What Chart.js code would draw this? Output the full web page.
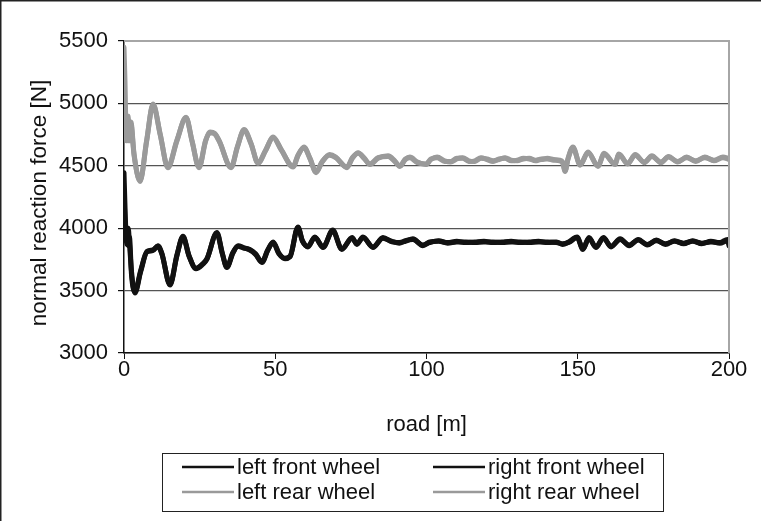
<!DOCTYPE html>
<html>
<head>
<meta charset="utf-8">
<script src="https://cdn.jsdelivr.net/npm/chart.js@4.4.1/dist/chart.umd.min.js"></script>
<style>
  html, body { margin: 0; padding: 0; background: #fff; }
  #wrap { width: 761px; height: 521px; position: relative; }
</style>
</head>
<body>
<div id="wrap"><canvas id="c" width="761" height="521"></canvas></div>
<script>
// ---- data ----
const roadFront = [0,0.3,0.6,1,1.4,1.8,2.5,3.6,5.5,7.6,9.5,11.2,12.5,15.2,17.5,19.5,21.5,23.8,26,27.4,30.7,32.5,34,36,37.7,39.5,41.6,43.5,45.6,47.5,49.3,51.2,53.2,54.9,57.5,59,60.8,63.1,65.8,69,72,75.4,77,79,82.3,85.6,88.6,91,93,95.5,98.8,101,104,107,110,113,116,119,122,125,128,131,134,137,140,143,145,147,149.8,151.7,153.7,156,158.5,161,164,167,170,173,176,179,182,185,188,191,194,197,199.5,200];
const leftFront = [4445,4200,3990,3870,4000,3880,3650,3480,3650,3810,3820,3860,3800,3545,3780,3935,3780,3675,3710,3750,3965,3800,3685,3800,3860,3845,3825,3790,3725,3820,3890,3800,3755,3770,4010,3900,3850,3930,3845,3985,3830,3925,3870,3930,3845,3925,3890,3885,3895,3915,3860,3890,3895,3885,3895,3885,3890,3895,3885,3890,3895,3885,3890,3895,3885,3890,3870,3890,3930,3830,3925,3845,3925,3850,3915,3860,3910,3865,3905,3870,3900,3875,3900,3875,3895,3880,3900,3860];
const rightFront = [4300,4050,3900,3990,3860,3930,3620,3490,3660,3815,3825,3855,3795,3550,3785,3930,3775,3680,3715,3755,3960,3795,3690,3805,3855,3840,3830,3795,3730,3825,3885,3795,3760,3775,4005,3895,3855,3925,3850,3980,3835,3920,3875,3925,3850,3920,3895,3880,3900,3910,3865,3885,3900,3880,3890,3890,3885,3890,3890,3885,3890,3890,3885,3890,3890,3885,3875,3885,3925,3835,3920,3850,3920,3855,3910,3865,3905,3870,3900,3875,3895,3880,3895,3880,3890,3885,3910,3900];

const roadRear = [0,0.3,0.8,1.3,1.8,2.3,3.3,5.3,7.5,9.6,12,14.5,17.5,20.5,22.5,24.8,27,28.5,30,31.5,35.4,37.5,39.7,42,44.3,46.8,49.3,52,55.9,57.5,59.5,61.5,63.5,65.5,68,70,73.7,75.5,77.4,79.5,81.3,84,87.3,89.5,91.2,93,94.5,97,99.8,101.5,103.5,106,108,110,112,114,116,118,120,122,124,126,128,130,132,134,136,138,140,142,144,145,145.8,146.8,148.4,150.8,153.4,156.7,158.7,162.3,163.6,166.5,169,172,174.5,177.5,180,183,186,189,192,195,198,200];
const leftRear = [5450,5200,4700,4900,4720,4850,4600,4375,4700,4995,4750,4485,4700,4890,4700,4485,4700,4770,4760,4700,4485,4650,4790,4680,4520,4620,4730,4630,4490,4580,4650,4560,4445,4530,4590,4570,4485,4560,4605,4560,4510,4560,4580,4540,4495,4550,4570,4530,4510,4550,4570,4540,4530,4555,4565,4540,4535,4560,4555,4540,4550,4565,4545,4540,4555,4560,4545,4550,4560,4550,4545,4530,4455,4560,4650,4505,4610,4495,4600,4510,4595,4515,4590,4525,4580,4525,4575,4530,4570,4535,4570,4540,4565,4550];
const rightRear = [4900,4850,4720,4880,4700,4830,4590,4380,4705,4990,4745,4490,4705,4885,4695,4490,4705,4765,4755,4695,4490,4655,4785,4675,4525,4625,4725,4625,4495,4585,4645,4555,4450,4535,4585,4565,4490,4565,4600,4555,4515,4565,4575,4535,4500,4555,4565,4525,4515,4555,4565,4535,4535,4560,4560,4535,4540,4565,4550,4535,4555,4560,4540,4545,4560,4555,4540,4555,4555,4545,4540,4525,4460,4555,4645,4510,4605,4500,4595,4515,4590,4520,4585,4530,4575,4530,4570,4535,4565,4540,4565,4545,4570,4560];

const xTicks = [0, 50, 100, 150, 200];
const yTicks = [3000, 3500, 4000, 4500, 5000, 5500];
const seriesNames = ['left front wheel', 'right front wheel', 'left rear wheel', 'right rear wheel'];
const xTitle = 'road [m]';
const yTitle = 'normal reaction force [N]';

const BLACK = '#111111';
const GRAY = '#9a9a9a';
const FONT = "'Liberation Sans', Arial, sans-serif";

function pts(xs, ys) { return xs.map((x, i) => ({ x: x, y: ys[i] })); }

const PLOT = { left: 124, right: 729, top: 41, bottom: 353 };

const framePlugin = {
  id: 'frame',
  afterDatasetsDraw(chart) {
    const ctx = chart.ctx;
    const a = chart.chartArea;
    ctx.save();
    ctx.strokeStyle = '#a6a6a6';
    ctx.lineWidth = 2;
    ctx.beginPath();
    ctx.moveTo(a.left, a.top);
    ctx.lineTo(a.right, a.top);
    ctx.lineTo(a.right, a.bottom);
    ctx.stroke();
    ctx.restore();
  },
  afterDraw(chart) {
    const ctx = chart.ctx;
    ctx.save();
    // outer figure border (top, left)
    ctx.strokeStyle = '#222';
    ctx.lineWidth = 1.5;
    ctx.beginPath();
    ctx.moveTo(0.75, 521);
    ctx.lineTo(0.75, 0.75);
    ctx.lineTo(761, 0.75);
    ctx.stroke();
    // y-axis title
    ctx.save();
    ctx.translate(40, 203);
    ctx.rotate(-Math.PI / 2);
    ctx.font = '22.5px ' + FONT;
    ctx.fillStyle = '#111';
    ctx.textAlign = 'center';
    ctx.textBaseline = 'middle';
    ctx.fillText(yTitle, 0, 0);
    ctx.restore();
    // legend
    const bx = 162.5, by = 453.5, bw = 501, bh = 58;
    ctx.strokeStyle = '#222';
    ctx.lineWidth = 1;
    ctx.strokeRect(bx, by, bw, bh);
    const items = [
      { x: 182, y: 467, color: BLACK, label: seriesNames[0] },
      { x: 433, y: 467, color: BLACK, label: seriesNames[1] },
      { x: 182, y: 492, color: GRAY, label: seriesNames[2] },
      { x: 433, y: 492, color: GRAY, label: seriesNames[3] }
    ];
    ctx.font = '22px ' + FONT;
    ctx.textBaseline = 'middle';
    ctx.textAlign = 'left';
    items.forEach(it => {
      ctx.strokeStyle = it.color;
      ctx.lineWidth = 2.5;
      ctx.beginPath();
      ctx.moveTo(it.x, it.y);
      ctx.lineTo(it.x + 52, it.y);
      ctx.stroke();
      ctx.fillStyle = '#111';
      ctx.fillText(it.label, it.x + 55, it.y + 1);
    });
    ctx.restore();
  }
};

const ds = (label, xs, ys, color) => ({
  label: label,
  data: pts(xs, ys),
  borderColor: color,
  backgroundColor: color,
  borderWidth: 5,
  pointRadius: 0,
  fill: false,
  cubicInterpolationMode: 'monotone',
  borderJoinStyle: 'round',
  borderCapStyle: 'round'
});

new Chart(document.getElementById('c'), {
  type: 'line',
  data: {
    datasets: [
      ds(seriesNames[2], roadRear, leftRear, GRAY),
      ds(seriesNames[3], roadRear, rightRear, GRAY),
      ds(seriesNames[0], roadFront, leftFront, BLACK),
      ds(seriesNames[1], roadFront, rightFront, BLACK)
    ]
  },
  options: {
    responsive: false,
    animation: false,
    devicePixelRatio: 1,
    layout: { padding: { left: 0, right: 761 - PLOT.right, top: PLOT.top, bottom: 78 } },
    plugins: { legend: { display: false }, tooltip: { enabled: false } },
    scales: {
      x: {
        type: 'linear',
        min: 0, max: 200,
        afterBuildTicks: s => { s.ticks = xTicks.map(v => ({ value: v })); },
        ticks: { color: '#111', font: { family: FONT, size: 22 }, padding: -2, maxRotation: 0, callback: v => String(v) },
        grid: { drawOnChartArea: false, drawTicks: true, tickLength: 6, color: '#111', tickColor: '#111' },
        border: { display: true, color: '#111', width: 1.5 },
        title: { display: true, text: xTitle, color: '#111', font: { family: FONT, size: 22 }, padding: { top: 0, bottom: 5 } },
        afterFit: s => { s.height = 90; }
      },
      y: {
        type: 'linear',
        min: 3000, max: 5500,
        afterBuildTicks: s => { s.ticks = yTicks.map(v => ({ value: v })); },
        ticks: { color: '#111', font: { family: FONT, size: 22 }, padding: 10, callback: v => String(v) },
        grid: {
          drawTicks: true, tickLength: 6,
          color: ctx => (ctx.tick && ctx.tick.value === 5500) ? '#a6a6a6' : '#555',
          lineWidth: 1.2,
          tickColor: '#111'
        },
        border: { display: true, color: '#111', width: 1.5 },
        title: { display: false },
        afterFit: s => { s.width = PLOT.left; }
      }
    }
  },
  plugins: [framePlugin]
});
</script>
</body>
</html>
